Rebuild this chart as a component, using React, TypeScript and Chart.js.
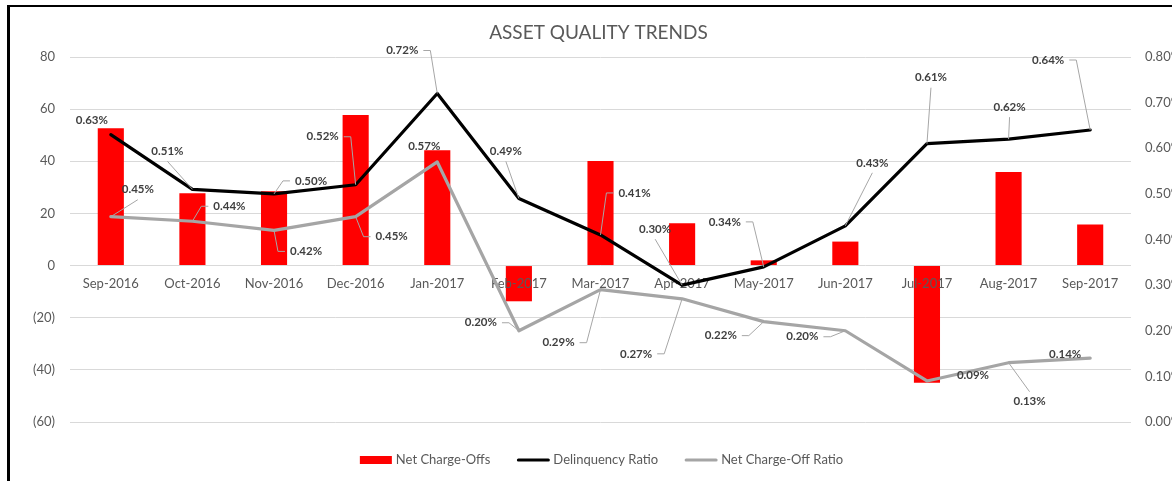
import React, { useEffect, useRef } from 'react';
import { Chart, registerables } from 'chart.js';

Chart.register(...registerables);

const categories = ['Sep-2016', 'Oct-2016', 'Nov-2016', 'Dec-2016', 'Jan-2017', 'Feb-2017', 'Mar-2017', 'Apr-2017', 'May-2017', 'Jun-2017', 'Jul-2017', 'Aug-2017', 'Sep-2017'];
const netChargeOffs = [52.7, 27.7, 28.5, 57.8, 44.2, -13.7, 40.1, 16.2, 2.0, 9.2, -44.9, 35.9, 15.8];
const delinquencyRatio = [0.63, 0.51, 0.5, 0.52, 0.72, 0.49, 0.41, 0.3, 0.34, 0.43, 0.61, 0.62, 0.64];
const netChargeOffRatio = [0.45, 0.44, 0.42, 0.45, 0.57, 0.2, 0.29, 0.27, 0.22, 0.2, 0.09, 0.13, 0.14];
const seriesNames = ['Net Charge-Offs', 'Delinquency Ratio', 'Net Charge-Off Ratio'];
const titleText = 'ASSET QUALITY TRENDS';

// label placement relative to each point: [dx, dy, leader type]
const delinquencyLabelOffsets: [number, number, string][] = [
  [-19, -14, 'none'], [-25, -38, 'direct'], [37, -13, 'elbowL'], [-33, -48, 'elbowR'],
  [-35, -43, 'elbowR'], [-13, -47, 'direct'], [34, -42, 'elbowL'], [-27, -56, 'direct'],
  [-39, -45, 'elbowR'], [27, -63, 'direct'], [4, -66, 'direct'], [1, -32, 'direct'], [-42, -70, 'elbowR'],
];
const chargeOffLabelOffsets: [number, number, string][] = [
  [27, -27, 'direct'], [37, -15, 'elbowL'], [32, 21, 'elbowL'], [36, 20, 'elbowL'],
  [-13, -16, 'none'], [-38, -8, 'elbowR'], [-42, 53, 'elbowR'], [-46, 55, 'elbowR'],
  [-43, 14, 'elbowR'], [-43, 6, 'elbowR'], [46, -6, 'none'], [21, 39, 'direct'], [-25, -4, 'none'],
];

const FONT = 'Lato, "Open Sans", sans-serif';
const AXIS_COLOR = '#595959';

const fmtLeft = (v: number) => (v < 0 ? `(${Math.abs(v)})` : `${v}`);
const fmtPct = (v: number) => `${Number(v).toFixed(2)}%`;

const customPlugin = {
  id: 'customDraw',
  afterDatasetDraw(chart: any, args: any) {
    if (args.index !== 0) return;
    const ctx = chart.ctx;
    const xs = chart.scales.x;
    const ys = chart.scales.y;
    const y0 = ys.getPixelForValue(0);
    ctx.save();
    ctx.font = `13px ${FONT}`;
    ctx.fillStyle = AXIS_COLOR;
    ctx.textAlign = 'center';
    ctx.textBaseline = 'middle';
    categories.forEach((c, i) => {
      ctx.fillText(c, xs.getPixelForValue(i), y0 + 18);
    });
    ctx.restore();
  },
  afterDatasetsDraw(chart: any) {
    const ctx = chart.ctx;
    const drawLabels = (dsIndex: number, offsets: [number, number, string][]) => {
      const meta = chart.getDatasetMeta(dsIndex);
      const data = chart.data.datasets[dsIndex].data as number[];
      ctx.save();
      ctx.font = `bold 11.5px ${FONT}`;
      meta.data.forEach((pt: any, i: number) => {
        const [dx, dy, kind] = offsets[i];
        const cx = pt.x + dx;
        const cy = pt.y + dy;
        const txt = fmtPct(data[i]);
        const hw = ctx.measureText(txt).width / 2;
        ctx.strokeStyle = '#a6a6a6';
        ctx.lineWidth = 1;
        ctx.beginPath();
        if (kind === 'direct') {
          const ey = dy < 0 ? cy + 10 : cy - 10;
          ctx.moveTo(cx, ey);
          ctx.lineTo(pt.x, pt.y);
        } else if (kind === 'elbowR') {
          ctx.moveTo(cx + hw + 5, cy);
          ctx.lineTo(cx + hw + 12, cy);
          ctx.lineTo(pt.x, pt.y);
        } else if (kind === 'elbowL') {
          ctx.moveTo(cx - hw - 5, cy);
          ctx.lineTo(cx - hw - 12, cy);
          ctx.lineTo(pt.x, pt.y);
        }
        ctx.stroke();
        ctx.fillStyle = '#3f3f3f';
        ctx.textAlign = 'center';
        ctx.textBaseline = 'middle';
        ctx.fillText(txt, cx, cy);
      });
      ctx.restore();
    };
    drawLabels(1, delinquencyLabelOffsets);
    drawLabels(2, chargeOffLabelOffsets);
  },
  afterDraw(chart: any) {
    const ctx = chart.ctx;
    const area = chart.chartArea;
    ctx.save();
    // title
    ctx.font = `19px ${FONT}`;
    ctx.fillStyle = AXIS_COLOR;
    ctx.textAlign = 'center';
    ctx.textBaseline = 'middle';
    ctx.fillText(titleText, (area.left + area.right) / 2 - 2, area.top - 24);
    // legend
    ctx.font = `13px ${FONT}`;
    const ds = chart.data.datasets;
    const symW = 32;
    const gapSym = 4;
    const gapItem = 27;
    const widths = ds.map((d: any) => symW + gapSym + ctx.measureText(d.label).width);
    const total = widths.reduce((a: number, b: number) => a + b, 0) + gapItem * (ds.length - 1);
    let x = (area.left + area.right) / 2 + 1 - total / 2;
    const ly = area.bottom + 38;
    ds.forEach((d: any, i: number) => {
      if (d.type === 'line') {
        ctx.strokeStyle = d.borderColor;
        ctx.lineWidth = 3;
        ctx.lineCap = 'round';
        ctx.beginPath();
        ctx.moveTo(x + 1, ly);
        ctx.lineTo(x + symW - 1, ly);
        ctx.stroke();
      } else {
        ctx.fillStyle = d.backgroundColor;
        ctx.fillRect(x, ly - 4, symW, 8);
      }
      ctx.fillStyle = AXIS_COLOR;
      ctx.textAlign = 'left';
      ctx.fillText(d.label, x + symW + gapSym, ly);
      x += widths[i] + gapItem;
    });
    ctx.restore();
  },
};

export default function App() {
  const ref = useRef<HTMLCanvasElement | null>(null);
  useEffect(() => {
    if (!ref.current) return;
    const chart = new Chart(ref.current, {
      type: 'bar',
      data: {
        labels: categories,
        datasets: [
          {
            type: 'bar',
            label: seriesNames[0],
            data: netChargeOffs,
            backgroundColor: '#ff0000',
            yAxisID: 'y',
            order: 3,
            barPercentage: 0.32,
            categoryPercentage: 1,
          },
          {
            type: 'line',
            label: seriesNames[1],
            data: delinquencyRatio,
            borderColor: '#000000',
            backgroundColor: '#000000',
            borderWidth: 3.2,
            pointRadius: 0,
            borderJoinStyle: 'round',
            borderCapStyle: 'round',
            tension: 0,
            yAxisID: 'y1',
            order: 1,
          },
          {
            type: 'line',
            label: seriesNames[2],
            data: netChargeOffRatio,
            borderColor: '#a5a5a5',
            backgroundColor: '#a5a5a5',
            borderWidth: 3.2,
            pointRadius: 0,
            borderJoinStyle: 'round',
            borderCapStyle: 'round',
            tension: 0,
            yAxisID: 'y1',
            order: 2,
          },
        ] as any,
      },
      options: {
        animation: false,
        responsive: false,
        layout: { padding: { top: 57, bottom: 59, left: 0, right: 0 } },
        plugins: {
          legend: { display: false },
          title: { display: false },
          tooltip: { enabled: false },
        },
        scales: {
          x: {
            type: 'category',
            display: false,
            offset: true,
            grid: { display: false },
          },
          y: {
            position: 'left',
            min: -60,
            max: 80,
            ticks: {
              stepSize: 20,
              callback: (v: any) => fmtLeft(Number(v)),
              font: { family: FONT, size: 13 },
              color: AXIS_COLOR,
              padding: 15,
            },
            grid: { color: '#d9d9d9', drawTicks: false, lineWidth: 1 },
            border: { display: false },
            afterFit: (s: any) => { s.width = 70; },
          },
          y1: {
            position: 'right',
            min: 0,
            max: 0.8,
            ticks: {
              stepSize: 0.1,
              callback: (v: any) => fmtPct(Number(v)),
              font: { family: FONT, size: 13 },
              color: AXIS_COLOR,
              padding: 14,
            },
            grid: { display: false, drawTicks: false },
            border: { display: false },
            afterFit: (s: any) => { s.width = 70; },
          },
        },
      } as any,
      plugins: [customPlugin],
    });
    return () => chart.destroy();
  }, []);

  return (
    <div style={{ position: 'absolute', left: 0, top: 0, width: 1172, height: 481, overflow: 'hidden', background: '#fff' }}>
      <canvas ref={ref} width={1201} height={481} style={{ position: 'absolute', left: 0, top: 0, width: 1201, height: 481 }} />
      <div style={{ position: 'absolute', left: 7, top: 5, width: 1400, height: 700, borderLeft: '3px solid #000', borderTop: '2px solid #000', pointerEvents: 'none' }} />
    </div>
  );
}
